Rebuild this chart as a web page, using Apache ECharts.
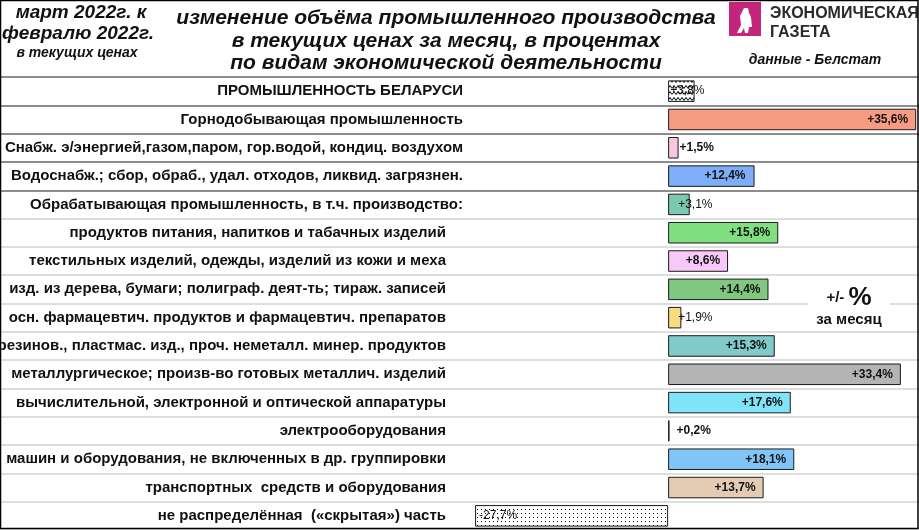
<!DOCTYPE html>
<html>
<head>
<meta charset="utf-8">
<script src="https://cdn.jsdelivr.net/npm/echarts@6/dist/echarts.min.js"></script>
<style>
  html, body { margin: 0; padding: 0; background: #fff; }
  #chart { width: 919px; height: 530px; }
</style>
</head>
<body>
<div id="chart"></div>
<script>
// категории (сверху вниз)
var categories = [
  "ПРОМЫШЛЕННОСТЬ БЕЛАРУСИ",
  "Горнодобывающая промышленность",
  "Снабж. э/энергией,газом,паром, гор.водой, кондиц. воздухом",
  "Водоснабж.; сбор, обраб., удал. отходов, ликвид. загрязнен.",
  "Обрабатывающая промышленность, в т.ч. производство:",
  "продуктов питания, напитков и табачных изделий",
  "текстильных изделий, одежды, изделий из кожи и меха",
  "изд. из дерева, бумаги; полиграф. деят-ть; тираж. записей",
  "осн. фармацевтич. продуктов и фармацевтич. препаратов",
  "резинов., пластмас. изд., проч. неметалл. минер. продуктов",
  "металлургическое; произв-во готовых металлич. изделий",
  "вычислительной, электронной и оптической аппаратуры",
  "электрооборудования",
  "машин и оборудования, не включенных в др. группировки",
  "транспортных  средств и оборудования",
  "не распределённая  («скрытая») часть"
];
// изменение за месяц, %
var values = [3.8, 35.6, 1.5, 12.4, 3.1, 15.8, 8.6, 14.4, 1.9, 15.3, 33.4, 17.6, 0.2, 18.1, 13.7, -27.7];
// строки верхнего уровня (остальные — подпункты обрабатывающей)
var topLevel = [0, 1, 2, 3, 4];

var FONT = "'Liberation Sans', Arial, sans-serif";

// узоры
function makePattern(kind) {
  var c = document.createElement("canvas");
  var ctx = c.getContext("2d");
  if (kind === "wave") {
    c.width = 8; c.height = 6;
    ctx.fillStyle = "#fff"; ctx.fillRect(0, 0, 8, 6);
    ctx.strokeStyle = "#000"; ctx.lineWidth = 1;
    ctx.beginPath();
    ctx.moveTo(0, 4.5); ctx.lineTo(2, 1.5); ctx.lineTo(4, 4.5); ctx.lineTo(6, 1.5); ctx.lineTo(8, 4.5);
    ctx.stroke();
  } else {
    c.width = 4; c.height = 4;
    ctx.fillStyle = "#fff"; ctx.fillRect(0, 0, 4, 4);
    ctx.fillStyle = "#000"; ctx.fillRect(1, 1, 1, 1);
  }
  return { image: c, repeat: "repeat" };
}

var barColors = [
  makePattern("wave"), "#F79C82", "#F8C8E0", "#7EAEF8", "#7CC8B0", "#80E080",
  "#F8C8F8", "#80C880", "#F8DC80", "#80CACA", "#B4B4B4", "#80E4F8",
  "#F4DCC8", "#80C4F8", "#E4CCB4", makePattern("dots")
];
var labelPos = [
  ["insideLeft", 2], ["insideRight", 8], ["right", 1], ["insideRight", 9],
  ["insideLeft", 10], ["insideRight", 8], ["insideRight", 8], ["insideRight", 8],
  ["insideLeft", 10], ["insideRight", 8], ["insideRight", 8], ["insideRight", 8],
  ["right", 7], ["insideRight", 8], ["insideRight", 8], ["insideLeft", 4]
];
var plainLabel = [0, 4, 8, 15];

var splitColors = [];
for (var i = 0; i <= categories.length; i++) {
  splitColors.push(i <= 4 ? "#8c8c8c" : "#dedede");
}

function fmt(v) {
  return (v > 0 ? "+" : "") + v.toFixed(1).replace(".", ",") + "%";
}

var barData = values.map(function (v, i) {
  return {
    value: v,
    itemStyle: { color: barColors[i] },
    label: {
      position: labelPos[i][0],
      distance: labelPos[i][1],
      fontWeight: plainLabel.indexOf(i) >= 0 ? "normal" : "bold"
    }
  };
});

function txt(text, x, y, size, opts) {
  var st = {
    text: text, x: x, y: y, fontSize: size, fontWeight: "bold",
    fontFamily: FONT, fill: "#111"
  };
  for (var k in opts) st[k] = opts[k];
  return { type: "text", style: st };
}

var chart = echarts.init(document.getElementById("chart"));

var option = {
  animation: false,
  backgroundColor: "#fff",
  grid: [
    { left: 0, right: 0, top: 77, bottom: 0, outerBoundsMode: "none" },
    { left: 473, right: 0, top: 77, bottom: 0, outerBoundsMode: "none", containLabel: false }
  ],
  xAxis: [
    { gridIndex: 0, type: "value", min: 0, max: 1, show: false },
    { gridIndex: 1, type: "value", min: -28, max: 36, show: false }
  ],
  yAxis: [
    {
      gridIndex: 0, type: "category", inverse: true, data: categories,
      axisLine: { show: false }, axisTick: { show: false }, axisLabel: { show: false },
      splitLine: { show: true, lineStyle: { color: splitColors, width: 2 } }
    },
    {
      gridIndex: 1, type: "category", inverse: true, data: categories,
      axisLine: { show: false }, axisTick: { show: false },
      axisLabel: {
        margin: 10,
        fontFamily: FONT,
        fontSize: 15,
        fontWeight: "bold",
        color: "#111",
        formatter: function (v, i) {
          return topLevel.indexOf(i) >= 0 ? "{a|" + v + "}" : "{b|" + v + "}";
        },
        rich: {
          a: { fontSize: 15, fontWeight: "bold", color: "#111", fontFamily: FONT },
          b: { fontSize: 15, fontWeight: "bold", color: "#111", fontFamily: FONT, padding: [0, 17, 0, 0] }
        }
      }
    }
  ],
  series: [
    {
      type: "bar",
      xAxisIndex: 1,
      yAxisIndex: 1,
      data: barData,
      barCategoryGap: "24%",
      itemStyle: { borderColor: "#1a1a1a", borderWidth: 1 },
      label: {
        show: true,
        fontFamily: FONT,
        fontSize: 12,
        color: "#111",
        formatter: function (p) { return fmt(p.value); }
      }
    }
  ],
  graphic: [
    // рамка
    { type: "rect", shape: { x: 0.5, y: 0.5, width: 917.5, height: 528 },
      style: { fill: null, stroke: "#000", lineWidth: 1.5 }, z: 100 },
    // левый заголовок
    txt("март 2022г. к", 81, 3, 19, { fontStyle: "italic", textAlign: "center" }),
    txt("февралю 2022г.", 78, 24, 19, { fontStyle: "italic", textAlign: "center" }),
    txt("в текущих ценах", 77, 46, 14, { fontStyle: "italic", textAlign: "center" }),
    // заголовок
    txt("изменение объёма промышленного производства\nв текущих ценах за месяц, в процентах\nпо видам экономической деятельности",
      446, 7, 21, { fontStyle: "italic", textAlign: "center", lineHeight: 22.5 }),
    // логотип
    { type: "rect", shape: { x: 729, y: 2, width: 32, height: 34 }, style: { fill: "#C2257A" } },
    { type: "polygon", shape: { points: [[744, 8], [748, 8], [749, 13], [751, 17], [752, 27], [749, 27], [748, 33], [745, 33], [744, 28], [741, 33], [737, 33], [741, 25], [740, 16]] },
      style: { fill: "#fff" } },
    txt("ЭКОНОМИЧЕСКАЯ\nГАЗЕТА", 770, 4, 16, { lineHeight: 19, fill: "#2a2a2a", fontWeight: "bold" }),
    txt("данные - Белстат", 815, 53, 14, { fontStyle: "italic", textAlign: "center" }),
    // пояснение
    { type: "rect", shape: { x: 808, y: 284, width: 82, height: 44 }, style: { fill: "#fff" }, z: 50 },
    { type: "text", z: 51, style: {
        text: "{s|+/- }{p|%}\n{s|за месяц}", x: 849, y: 286, textAlign: "center",
        rich: {
          s: { fontSize: 15, fontWeight: "bold", fontFamily: FONT, fill: "#111", lineHeight: 20 },
          p: { fontSize: 26, fontWeight: "bold", fontFamily: FONT, fill: "#111", lineHeight: 24 }
        } } }
  ]
};

chart.setOption(option);
</script>
</body>
</html>
